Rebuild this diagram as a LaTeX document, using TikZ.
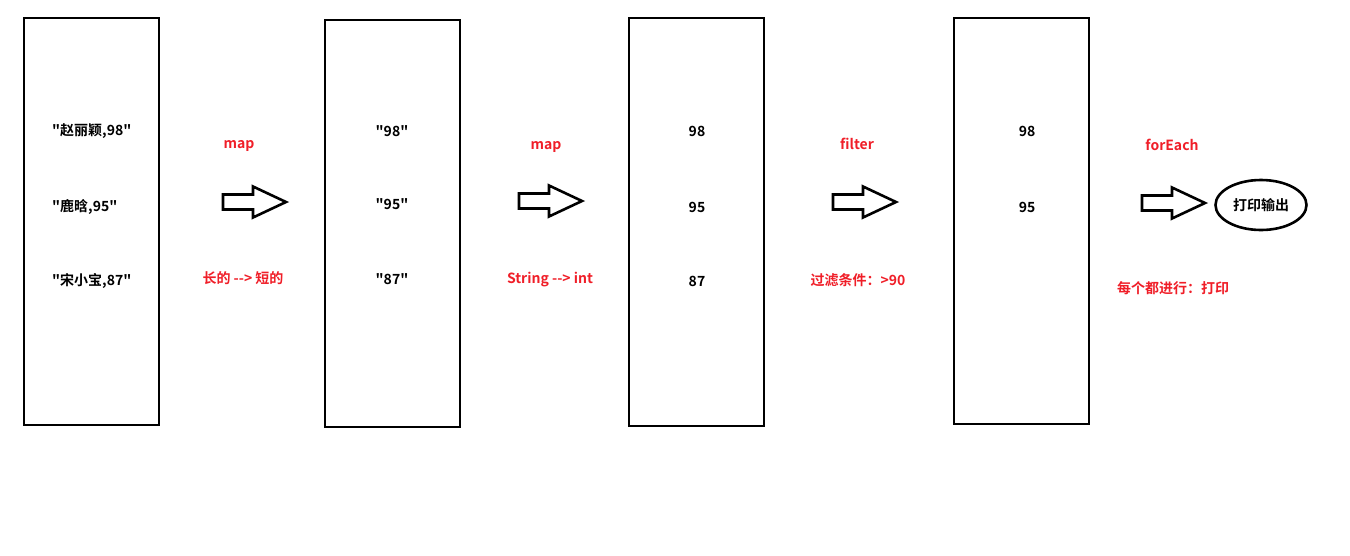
\documentclass[tikz,border=0pt]{standalone}
\usepackage{fontspec}
\newfontfamily\cjkfont{Noto Sans CJK SC}[BoldFont={* Bold}]
\usetikzlibrary{shapes.geometric}
\definecolor{lblred}{RGB}{240,30,40}
\tikzset{
  col/.style={draw=black,line width=2.6pt,minimum width=135pt,inner sep=0pt},
  val/.style={font=\cjkfont\fontsize{14}{16}\selectfont\bfseries,text=black,inner sep=0pt},
  lbl/.style={font=\cjkfont\fontsize{14}{16}\selectfont\bfseries,text=lblred,inner sep=0pt},
  barrow/.style={draw=black,line width=2.6pt,fill=white,line join=miter},
}
\newcommand{\blockarr}[3]{% name, left x, center y
  \draw[barrow] (#2,#3-7.5) -- ++(30,0) -- ++(0,-8) -- ++(33,15.5) -- ++(-33,15.5) -- ++(0,-8) -- ++(-30,0) -- cycle;
  \coordinate (#1) at (#2+31,#3);
}
\begin{document}
\begin{tikzpicture}[x=1pt,y=-1pt]
\useasboundingbox (0,0) rectangle (1350,555);
\fill[white] (0,0) rectangle (1350,555);
% columns
\draw[col] (24,18) rectangle (159,425);
\draw[col] (325,20) rectangle (460,427);
\draw[col] (629,18) rectangle (764,426);
\draw[col] (954,18) rectangle (1089,424);
% column 1
\node[val,anchor=west] (a1) at (52,131) {"赵丽颖,98"};
\node[val,anchor=west] (a2) at (52,207) {"鹿晗,95"};
\node[val,anchor=west] (a3) at (52,281) {"宋小宝,87"};
% column 2
\node[val] (b1) at (392,131) {"98"};
\node[val] (b2) at (392,204) {"95"};
\node[val] (b3) at (392,279) {"87"};
% column 3
\node[val] (c1) at (697,131) {98};
\node[val] (c2) at (697,207) {95};
\node[val] (c3) at (697,281) {87};
% column 4
\node[val] (d1) at (1027,131) {98};
\node[val] (d2) at (1027,207) {95};
% labels
\node[lbl] (m1) at (239,146) {map};
\node[lbl] (n1) at (243,278) {长的 --> 短的};
\node[lbl] (m2) at (546,147) {map};
\node[lbl] (n2) at (550,280) {String --> int};
\node[lbl] (m3) at (857,144) {filter};
\node[lbl] (n3) at (858,280) {过滤条件：>90};
\node[lbl] (m4) at (1172,145) {forEach};
\node[lbl] (n4) at (1173,288) {每个都进行：打印};
% block arrows
\blockarr{ar1}{223}{202}
\blockarr{ar2}{519}{201}
\blockarr{ar3}{833}{202}
\blockarr{ar4}{1142}{203}
% ellipse
\node[draw=black,line width=2.6pt,ellipse,minimum width=91pt,minimum height=50pt,inner sep=0pt,font=\cjkfont\fontsize{14}{16}\selectfont\bfseries] (out) at (1261,205) {打印输出};
\end{tikzpicture}
\end{document}
